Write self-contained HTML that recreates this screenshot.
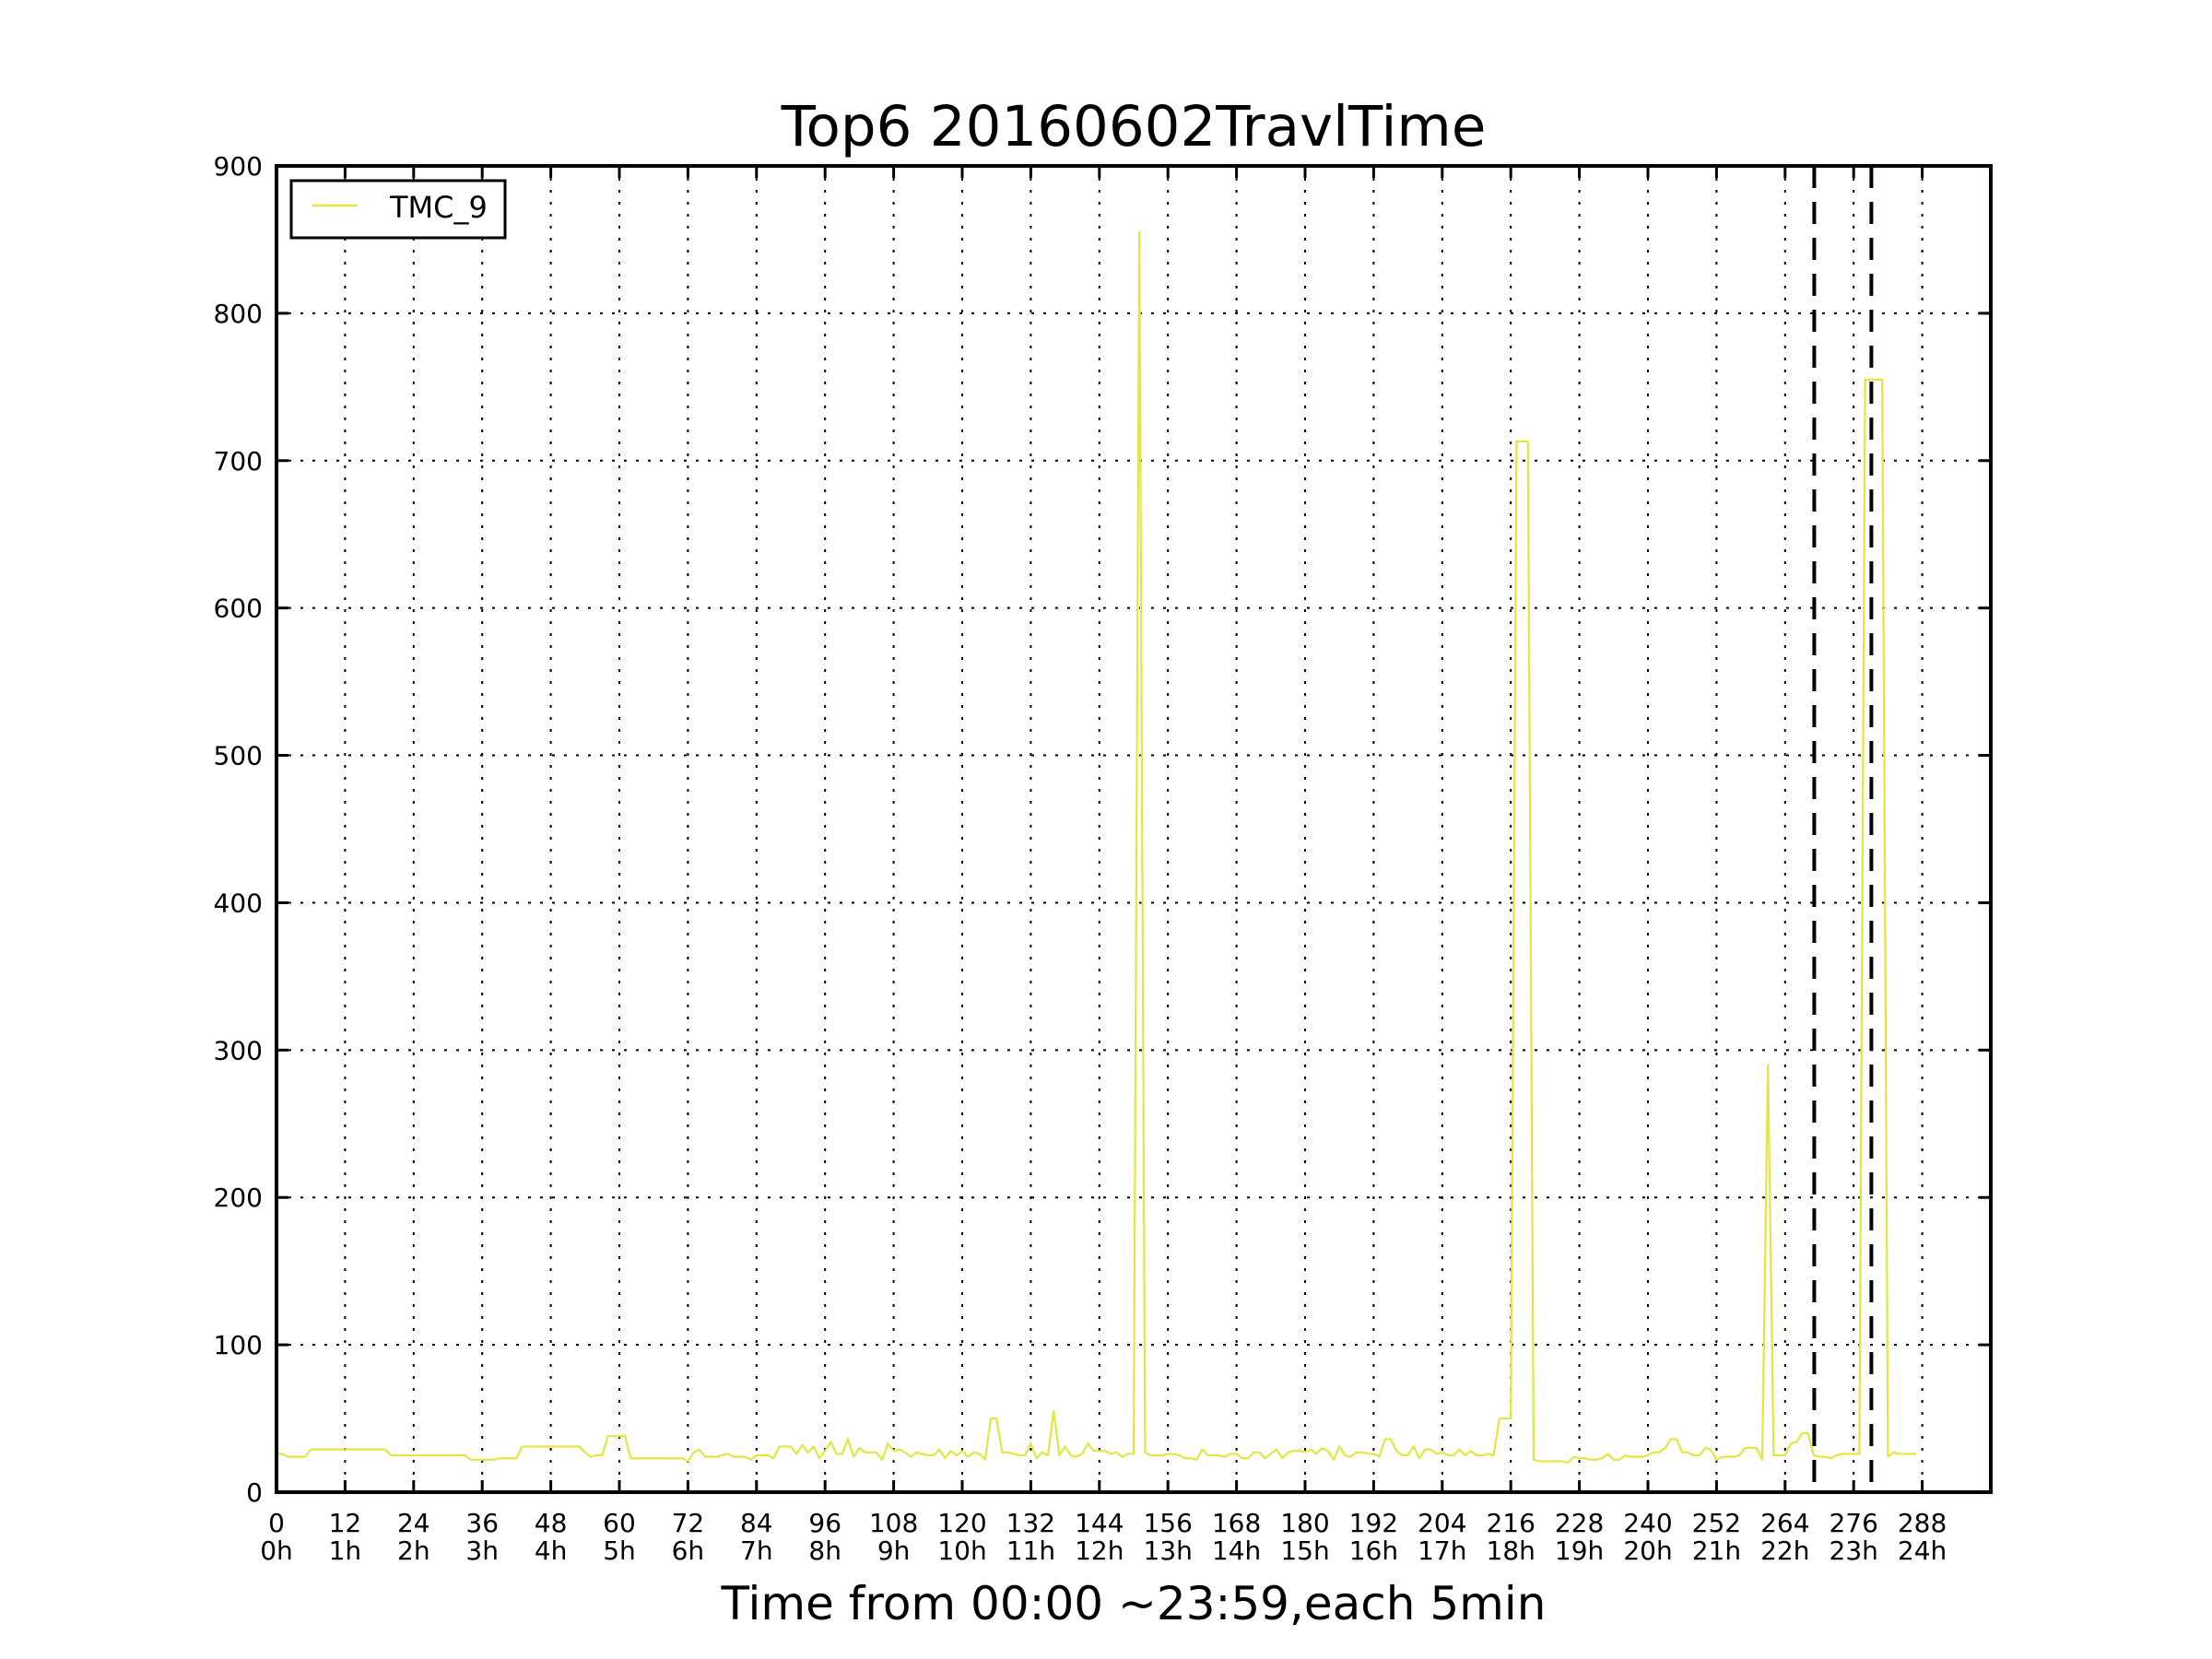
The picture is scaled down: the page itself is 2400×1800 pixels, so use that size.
<!DOCTYPE html>
<html><head><meta charset="utf-8"><style>
html,body{margin:0;padding:0;background:#fff;}
svg{display:block;font-family:"DejaVu Sans","Liberation Sans",sans-serif;}
</style></head><body>
<svg id="chart" width="2400" height="1800" viewBox="0 0 2400 1800" xmlns="http://www.w3.org/2000/svg">
<rect x="0" y="0" width="2400" height="1800" fill="#fff"/>
<text x="1230" y="158" text-anchor="middle" font-size="61">Top6 20160602TravlTime</text>
<text x="1230" y="1757" text-anchor="middle" font-size="50">Time from 00:00 ~23:59,each 5min</text>
<g id="grid"></g>
<g id="ticks"></g>
<g id="series"></g>
<g id="vlines"></g>
<rect x="300" y="180" width="1860" height="1439" fill="none" stroke="#000" stroke-width="4"/>
<g>
<rect x="316" y="196" width="232" height="62" fill="#fff" stroke="#000" stroke-width="3"/>
<line x1="339" y1="223" x2="388" y2="223" stroke="#e3e640" stroke-width="2.5"/>
<text x="423" y="236" font-size="32">TMC_9</text>
</g>
</svg>
<script>
const xTicks = [0,12,24,36,48,60,72,84,96,108,120,132,144,156,168,180,192,204,216,228,240,252,264,276,288];
const xHourLabels = ["0h","1h","2h","3h","4h","5h","6h","7h","8h","9h","10h","11h","12h","13h","14h","15h","16h","17h","18h","19h","20h","21h","22h","23h","24h"];
const yTicks = [0,100,200,300,400,500,600,700,800,900];
const markerLines = [269.1, 279.1];
const tmc9 = [
26,26,24,24,24,24,29,29,29,29,
29,29,29,29,29,29,29,29,29,29,
25,25,25,25,25,25,25,25,25,25,
25,25,25,25,22,22,22,22,22,23,
23,23,23,31,31,31,31,31,31,31,
31,31,31,31,27,24,25,25,38,38,
38,38,23,23,23,23,23,23,23,23,
23,23,21,27,29,24,24,24,25,26,
24,24,24,22,25,25,25,23,31,31,
31,26,32,27,31,23,28,34,26,26,
36,24,30,27,27,27,22,33,28,29,
27,24,27,26,25,25,29,23,28,25,
28,24,27,26,22,50,50,27,27,26,
25,25,33,23,27,25,55,25,31,25,
24,26,33,28,28,28,26,27,24,26,
26,855,27,25,25,25,26,26,25,23,
23,22,29,25,25,25,24,26,26,23,
23,27,27,23,26,29,23,27,28,28,
27,29,26,30,28,22,31,25,24,27,
27,26,26,24,36,36,28,25,25,31,
23,29,29,26,27,25,25,29,25,28,
25,25,26,25,50,50,50,713,713,713,
22,21,21,21,21,21,20,24,23,23,
22,22,23,26,22,22,25,24,24,24,
25,27,27,30,36,36,27,27,25,25,
30,29,22,24,24,24,25,30,30,30,
22,290,25,25,25,33,34,40,40,25,
24,24,23,25,26,26,26,26,755,755,
755,755,24,27,26,26,26,26
];
const NS = "http://www.w3.org/2000/svg";
const L = 300, R = 2160, T = 180, B = 1619, XMAX = 300, YMAX = 900;
function sx(v){ return L + (R - L) * v / XMAX; }
function sy(v){ return B - (B - T) * v / YMAX; }
function mk(tag, attrs, parent){ const e = document.createElementNS(NS, tag); for (const k in attrs) e.setAttribute(k, attrs[k]); parent.appendChild(e); return e; }
const grid = document.getElementById('grid');
const ticks = document.getElementById('ticks');
xTicks.forEach((t, i) => {
  const x = sx(t);
  if (t > 0) {
    const g = mk('line', {x1:x, y1:T, x2:x, y2:B, stroke:'#000', 'stroke-width':2, 'stroke-dasharray':'3 10'}, grid);
    
    
  }
  const tb = mk('line', {x1:x, y1:B, x2:x, y2:B-13, stroke:'#000', 'stroke-width':3}, ticks);
  
  
  const tt = mk('line', {x1:x, y1:T, x2:x, y2:T+13, stroke:'#000', 'stroke-width':3}, ticks);
  
  
  const l1 = mk('text', {x:x, y:1662, 'text-anchor':'middle', 'font-size':28}, ticks);
  l1.textContent = String(t);
  
  
  const l2 = mk('text', {x:x, y:1692, 'text-anchor':'middle', 'font-size':28}, ticks);
  l2.textContent = xHourLabels[i];
  
  
});
yTicks.forEach(t => {
  const y = sy(t);
  if (t > 0 && t < YMAX) {
    const g = mk('line', {x1:L, y1:y, x2:R, y2:y, stroke:'#000', 'stroke-width':2, 'stroke-dasharray':'3 10'}, grid);
    
    
  }
  const tl = mk('line', {x1:L, y1:y, x2:L+13, y2:y, stroke:'#000', 'stroke-width':3}, ticks);
  
  
  const tr = mk('line', {x1:R, y1:y, x2:R-13, y2:y, stroke:'#000', 'stroke-width':3}, ticks);
  
  
  const lb = mk('text', {x:285, y:y+10, 'text-anchor':'end', 'font-size':28}, ticks);
  lb.textContent = String(t);
  
  
});
const pts = tmc9.map((v, i) => sx(i).toFixed(2) + ',' + sy(v).toFixed(2)).join(' ');
const pl = mk('polyline', {points:pts, fill:'none', stroke:'#e3e640', 'stroke-width':2.2, 'stroke-linejoin':'round'}, document.getElementById('series'));


markerLines.forEach(v => {
  const ln = mk('line', {x1:sx(v), y1:T, x2:sx(v), y2:B, stroke:'#000', 'stroke-width':4, 'stroke-dasharray':'24 15'}, document.getElementById('vlines'));
  
  
});
</script>
</body></html>
